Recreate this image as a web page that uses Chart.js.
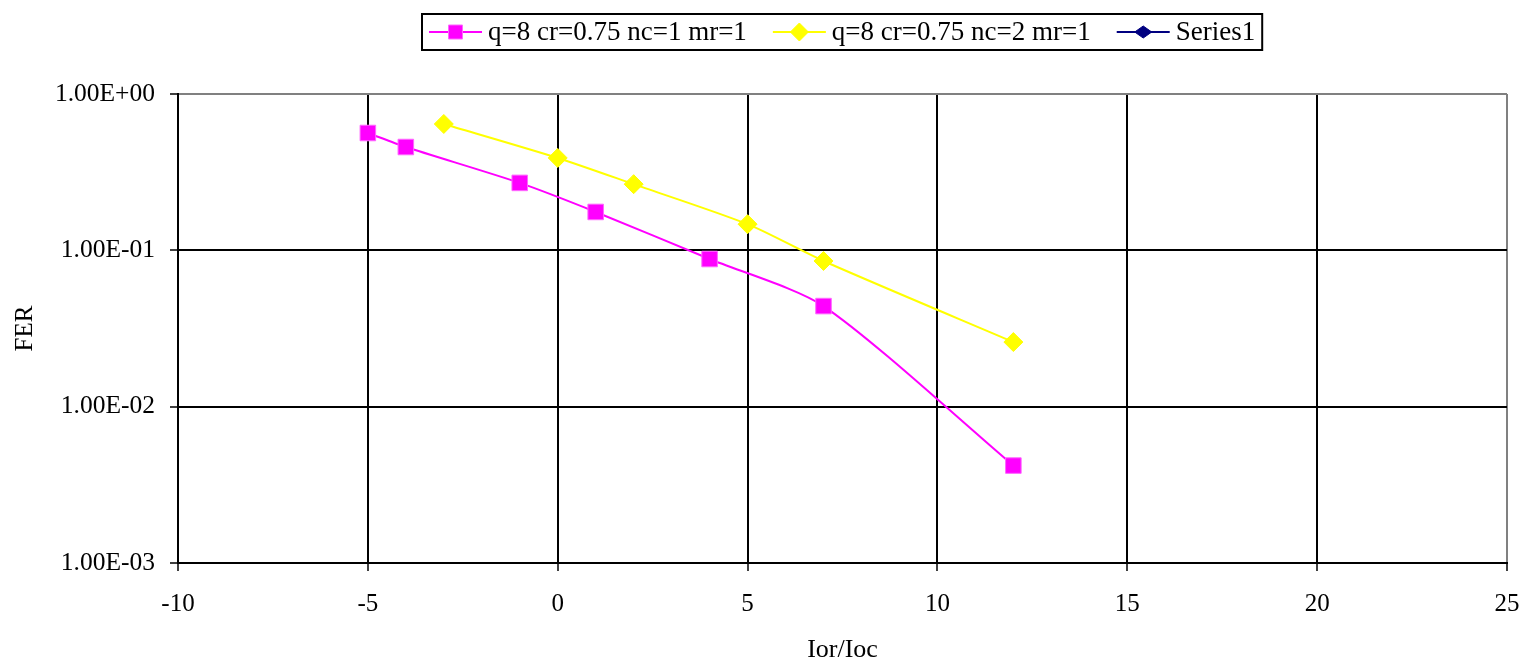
<!DOCTYPE html>
<html>
<head>
<meta charset="utf-8">
<script src="https://cdn.jsdelivr.net/npm/chart.js@4/dist/chart.umd.min.js"></script>
<style>
  html, body { margin: 0; padding: 0; background: #ffffff; }
  #wrap { width: 1525px; height: 666px; }
</style>
</head>
<body>
<div id="wrap"><canvas id="fer" width="1525" height="666"></canvas></div>
<script>
// Ior/Ioc values and measured frame error rates
const ior1 = [-5, -4, -1, 1, 4, 7, 12];
const fer1 = [0.563, 0.458, 0.27, 0.176, 0.088, 0.044, 0.0042];

const ior2 = [-3, 0, 2, 5, 7, 12];
const fer2 = [0.643, 0.39, 0.265, 0.147, 0.0855, 0.0259];

const ior3 = [];
const fer3 = [];

const seriesNames = ['q=8 cr=0.75 nc=1 mr=1', 'q=8 cr=0.75 nc=2 mr=1', 'Series1'];

const xTicks = [-10, -5, 0, 5, 10, 15, 20, 25];
const yTicks = [0.001, 0.01, 0.1, 1];

const SERIF = '"Liberation Serif", "Times New Roman", serif';

function pairs(xs, ys) { return xs.map((x, i) => ({ x: x, y: ys[i] })); }

function sciLabel(v) {
  const e = Math.round(Math.log10(v));
  const m = (v / Math.pow(10, e)).toFixed(2);
  return m + 'E' + (e < 0 ? '-' : '+') + String(Math.abs(e)).padStart(2, '0');
}

// Boxed legend across the top: line sample with marker, then the series name
const boxLegend = {
  id: 'boxLegend',
  afterDraw(chart) {
    const ctx = chart.ctx;
    const sets = chart.data.datasets;
    const font = '27px ' + SERIF;
    const sampleW = 53, textGap = 6, itemGap = 26, padX = 7;
    ctx.save();
    ctx.font = font;
    const widths = sets.map(d => ctx.measureText(d.label).width);
    let total = padX * 2;
    widths.forEach((w, i) => { total += sampleW + textGap + w + (i < widths.length - 1 ? itemGap : 0); });
    const cx = (chart.chartArea.left + chart.chartArea.right) / 2;
    const left = Math.round(cx - total / 2);
    const top = 14, h = 36, midY = top + h / 2;

    ctx.fillStyle = '#ffffff';
    ctx.fillRect(left, top, total, h);
    ctx.strokeStyle = '#000000';
    ctx.lineWidth = 2;
    ctx.strokeRect(left, top, total, h);

    let x = left + padX;
    sets.forEach((d, i) => {
      ctx.strokeStyle = d.borderColor;
      ctx.lineWidth = 2;
      ctx.beginPath();
      ctx.moveTo(x, midY);
      ctx.lineTo(x + sampleW, midY);
      ctx.stroke();
      const mx = x + sampleW / 2;
      ctx.fillStyle = d.pointBackgroundColor;
      ctx.strokeStyle = d.pointBorderColor;
      ctx.lineWidth = 1;
      ctx.beginPath();
      if (d.pointStyle === 'rect') {
        const s = d.legendRadius;
        ctx.rect(mx - s, midY - s, 2 * s, 2 * s);
      } else {
        const w = d.legendW / 2, hh = d.legendRadius;
        ctx.moveTo(mx - w, midY);
        ctx.lineTo(mx, midY - hh);
        ctx.lineTo(mx + w, midY);
        ctx.lineTo(mx, midY + hh);
        ctx.closePath();
      }
      ctx.fill();
      ctx.stroke();
      ctx.fillStyle = '#000000';
      ctx.textBaseline = 'middle';
      ctx.textAlign = 'left';
      ctx.fillText(d.label, x + sampleW + textGap, midY + 1);
      x += sampleW + textGap + widths[i] + itemGap;
    });
    ctx.restore();
  }
};

new Chart(document.getElementById('fer'), {
  type: 'line',
  data: {
    datasets: [
      {
        label: seriesNames[0],
        data: pairs(ior1, fer1),
        borderColor: '#ff00ff',
        backgroundColor: '#ff00ff',
        pointBackgroundColor: '#ff00ff',
        pointBorderColor: '#ff66ff',
        pointStyle: 'rect',
        pointRadius: 11,
        pointBorderWidth: 1,
        borderWidth: 2,
        tension: 0.25,
        legendRadius: 7,
        legendW: 14
      },
      {
        label: seriesNames[1],
        data: pairs(ior2, fer2),
        borderColor: '#ffff00',
        backgroundColor: '#ffff00',
        pointBackgroundColor: '#ffff00',
        pointBorderColor: '#ffff00',
        pointStyle: 'rectRot',
        pointRadius: 9.5,
        pointBorderWidth: 1,
        borderWidth: 2,
        tension: 0.25,
        legendRadius: 9,
        legendW: 18
      },
      {
        label: seriesNames[2],
        data: pairs(ior3, fer3),
        borderColor: '#000080',
        backgroundColor: '#000080',
        pointBackgroundColor: '#000080',
        pointBorderColor: '#000080',
        pointStyle: 'rectRot',
        pointRadius: 8,
        borderWidth: 2,
        legendRadius: 6,
        legendW: 17
      }
    ]
  },
  options: {
    responsive: false,
    animation: false,
    layout: { padding: { left: 0, top: 94, right: 18, bottom: 0 } },
    plugins: {
      legend: { display: false },
      tooltip: { enabled: false }
    },
    scales: {
      x: {
        type: 'linear',
        min: -10,
        max: 25,
        afterBuildTicks(scale) { scale.ticks = xTicks.map(v => ({ value: v })); },
        afterFit(scale) {
          scale.height = 103;
          scale.paddingLeft = 0;
          scale.paddingRight = 0;
        },
        ticks: {
          color: '#000000',
          font: { family: SERIF, size: 25 },
          padding: 18,
          callback: v => String(v)
        },
        grid: {
          color: ctx => (ctx.tick && ctx.tick.value === 25) ? '#808080' : '#000000',
          lineWidth: 2,
          tickColor: '#000000',
          tickWidth: 1.5,
          tickLength: 8
        },
        border: { color: '#000000', width: 2 },
        title: {
          display: true,
          text: 'Ior/Ioc',
          color: '#000000',
          font: { family: SERIF, size: 26 },
          padding: { top: 0, bottom: 0 }
        }
      },
      y: {
        type: 'logarithmic',
        min: 0.001,
        max: 1,
        afterBuildTicks(scale) { scale.ticks = yTicks.map(v => ({ value: v, major: true })); },
        afterFit(scale) {
          scale.width = 178;
          scale.paddingTop = 0;
          scale.paddingBottom = 0;
        },
        ticks: {
          color: '#000000',
          font: { family: SERIF, size: 25.5 },
          padding: 15,
          autoSkip: false,
          callback: v => sciLabel(v)
        },
        grid: {
          color: ctx => (ctx.tick && ctx.tick.value === 1) ? '#808080' : '#000000',
          lineWidth: 2,
          tickColor: '#000000',
          tickWidth: 1.5,
          tickLength: 8
        },
        border: { color: '#000000', width: 2 },
        title: {
          display: true,
          text: 'FER',
          color: '#000000',
          font: { family: SERIF, size: 25 },
          padding: { top: 10, bottom: 0 }
        }
      }
    }
  },
  plugins: [boxLegend]
});
</script>
</body>
</html>
